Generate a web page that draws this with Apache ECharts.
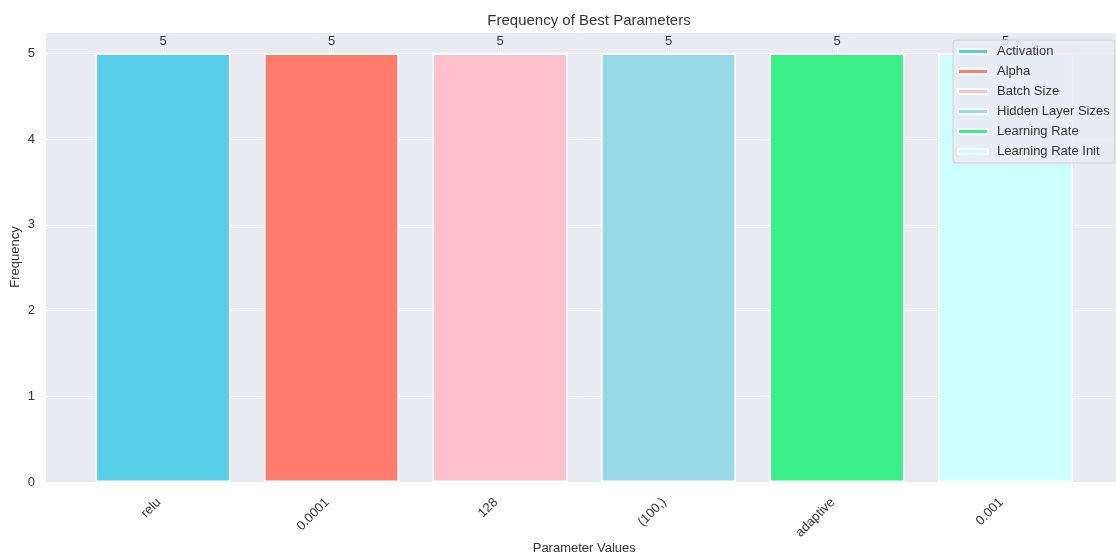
<!DOCTYPE html>
<html>
<head>
<meta charset="utf-8">
<script src="https://cdn.jsdelivr.net/npm/echarts@6/dist/echarts.min.js"></script>
<style>
  html, body { margin: 0; padding: 0; background: #fff; }
  #chart { width: 1116px; height: 558px; }
</style>
</head>
<body>
<div id="chart"></div>
<script>
// Best value found for each hyperparameter, and how often it was selected
const categories = ['relu', '0.0001', '128', '(100,)', 'adaptive', '0.001'];
const paramNames = ['Activation', 'Alpha', 'Batch Size', 'Hidden Layer Sizes', 'Learning Rate', 'Learning Rate Init'];
const frequencies = [5, 5, 5, 5, 5, 5];
const barColors = ['#57CEE8', '#FF7B6C', '#FFBFCB', '#98D8E7', '#3BEE88', '#CCFFFD'];
const yTicks = [0, 1, 2, 3, 4, 5];

const FONT = 'Liberation Sans, Arial, sans-serif';
const TXT = '#333';
const yMax = 5.25;

// one series per parameter so each gets its own legend entry; bars overlap in place
const series = paramNames.map((name, i) => ({
  name: name,
  type: 'bar',
  xAxisIndex: 1,
  yAxisIndex: 1,
  barWidth: '80%',
  barGap: '-100%',
  data: categories.map((c, j) => (j === i ? frequencies[j] : '-')),
  itemStyle: { color: barColors[i], borderColor: '#fff', borderWidth: 1.5 },
  label: {
    show: true, position: 'top', distance: 6,
    color: TXT, fontFamily: FONT, fontSize: 13
  }
}));

const chart = echarts.init(document.getElementById('chart'), null, { renderer: 'canvas' });
chart.setOption({
  animation: false,
  backgroundColor: '#fff',
  title: {
    text: 'Frequency of Best Parameters',
    left: 584, top: 8, textAlign: 'center',
    textStyle: { fontFamily: FONT, fontSize: 15, fontWeight: 'normal', color: TXT }
  },
  legend: {
    data: paramNames,
    orient: 'vertical',
    left: 953, top: 40,
    icon: 'roundRect',
    itemWidth: 30, itemHeight: 5,
    itemGap: 7,
    padding: [5, 5, 5, 4],
    backgroundColor: 'rgba(234,234,242,0.85)',
    borderColor: '#d0d0d8', borderWidth: 1, borderRadius: 3,
    textStyle: { fontFamily: FONT, fontSize: 13, color: TXT, padding: [0, 0, 0, 4] }
  },
  grid: [
    // full plotting area (background + horizontal grid)
    { left: 46, top: 32, width: 1076, height: 450, outerBoundsMode: 'none',
      show: true, backgroundColor: '#EAEAF2', borderWidth: 0 },
    // category bands for the bars
    { left: 78.75, top: 32, width: 1011, height: 450, outerBoundsMode: 'none' }
  ],
  xAxis: [
    { type: 'value', gridIndex: 0, show: false, min: 0, max: 1 },
    {
      type: 'category', gridIndex: 1, data: categories,
      name: 'Parameter Values', nameLocation: 'middle', nameGap: 60, nameMoveOverlap: false,
      nameTextStyle: { fontFamily: FONT, fontSize: 13, color: TXT },
      axisLine: { show: false }, axisTick: { show: false },
      axisLabel: { rotate: 45, margin: 14, padding: [0, 6, 0, 0], fontFamily: FONT, fontSize: 13, color: TXT },
      splitLine: { show: true, alignWithLabel: true, lineStyle: { color: '#fff', width: 1 } }
    }
  ],
  yAxis: [
    {
      type: 'value', gridIndex: 0, min: 0, max: yMax, interval: 1,
      name: 'Frequency', nameLocation: 'middle', nameGap: 24, nameMoveOverlap: false,
      nameTextStyle: { fontFamily: FONT, fontSize: 13, color: TXT },
      axisLine: { show: false }, axisTick: { show: false },
      axisLabel: {
        margin: 11, fontFamily: FONT, fontSize: 13, color: TXT,
        formatter: v => (yTicks.includes(v) ? String(v) : '')
      },
      splitLine: { show: true, lineStyle: { color: '#fff', width: 1 } }
    },
    { type: 'value', gridIndex: 1, min: 0, max: yMax, show: false }
  ],
  series: series
});
</script>
</body>
</html>
